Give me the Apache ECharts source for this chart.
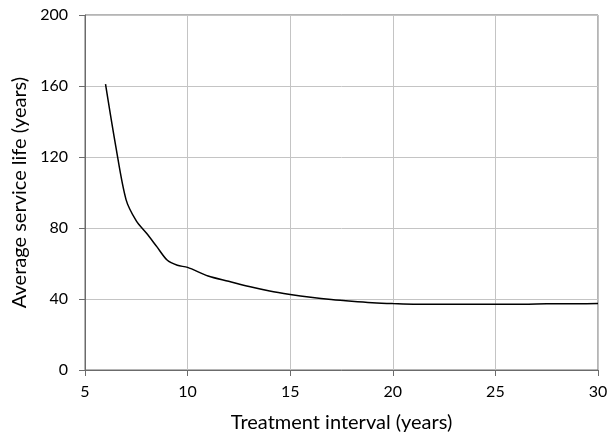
<!DOCTYPE html>
<html>
<head>
<meta charset="utf-8">
<script src="https://cdn.jsdelivr.net/npm/echarts@6/dist/echarts.min.js"></script>
<style>
html,body{margin:0;padding:0;background:#fff;}
#chart{width:614px;height:445px;}
</style>
</head>
<body>
<div id="chart"></div>
<script>
// treatment interval (years) and average service life (years)
var interval=[6,6.5,7,7.5,8,8.5,9,9.5,10,11,12,13,14,15,16,17,18,19,20,21,22,23,24,25,26,27,28,29,30];
var life=[161,126,96,84,77,69.5,62,59,57.8,53,50,47,44.5,42.6,41,39.7,38.7,37.9,37.4,37.1,37,37,37,37,37,37.2,37.3,37.3,37.4];
var xTicks=[5,10,15,20,25,30];
var yTicks=[0,40,80,120,160,200];

var chart=echarts.init(document.getElementById("chart"));

var pts=[];
for(var i=0;i<interval.length;i++){
	pts.push([interval[i],life[i]]);
}

var font='Lato, "Open Sans", sans-serif';
var option={
	animation:false,
	grid:{
		left:85,right:16,top:15,bottom:75,
		show:true,
		borderColor:'#6b6b6b',
		borderWidth:1
	},
	xAxis:{
		type:'value',
		min:xTicks[0],
		max:xTicks[xTicks.length-1],
		interval:5,
		name:'Treatment interval (years)',
		nameLocation:'middle',
		nameGap:43,
		nameTextStyle:{color:'#000',fontSize:20,fontFamily:font},
		axisLine:{show:true,lineStyle:{color:'#6b6b6b',width:1}},
		axisTick:{show:true,length:6,lineStyle:{color:'#6b6b6b'}},
		axisLabel:{color:'#000',fontSize:16,fontFamily:font,margin:14},
		splitLine:{show:true,lineStyle:{color:'#c4c4c4',width:1}}
	},
	yAxis:{
		type:'value',
		min:yTicks[0],
		max:yTicks[yTicks.length-1],
		interval:40,
		name:'Average service life (years)',
		nameLocation:'middle',
		nameGap:54,
		nameTextStyle:{color:'#000',fontSize:20,fontFamily:font},
		axisLine:{show:true,lineStyle:{color:'#6b6b6b',width:1}},
		axisTick:{show:true,length:6,lineStyle:{color:'#6b6b6b'}},
		axisLabel:{color:'#000',fontSize:16,fontFamily:font,margin:17},
		splitLine:{show:true,lineStyle:{color:'#c4c4c4',width:1}}
	},
	series:[
		{
			type:'line',
			data:pts,
			smooth:0.3,
			showSymbol:false,
			lineStyle:{color:'#000',width:1.5}
		}
	]
};
chart.setOption(option,true);
</script>
</body>
</html>
